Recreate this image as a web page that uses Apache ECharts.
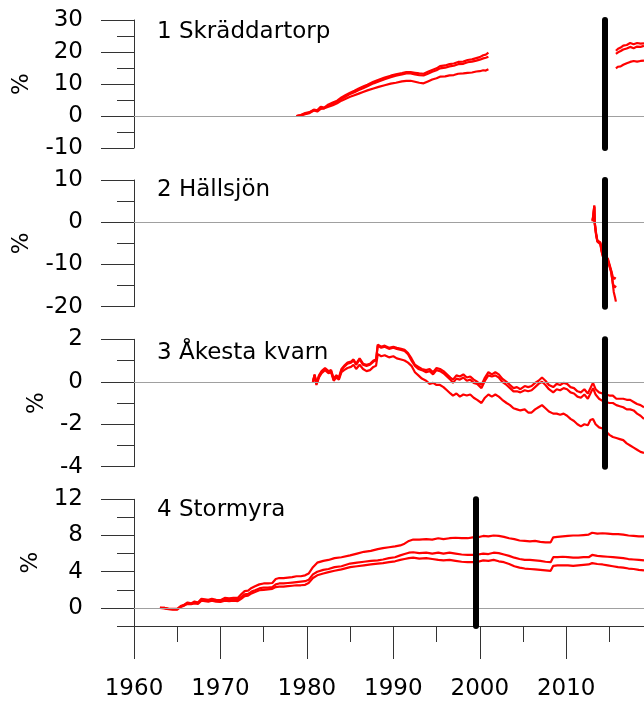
<!DOCTYPE html>
<html><head><meta charset="utf-8">
<script src="https://cdn.jsdelivr.net/npm/echarts@6/dist/echarts.min.js"></script>
<style>html,body{margin:0;padding:0;background:#fff}#c{width:644px;height:704px}</style>
</head><body><div id="c"></div>
<script>
const panelTitles = ['1 Skräddartorp', '2 Hällsjön', '3 Åkesta kvarn', '4 Stormyra'];
const yUnit = '%';
const yMin = [-10, -20, -4, -2];
const yMax = [30, 10, 2, 12];
const yMajorTicks = [[-10, 0, 10, 20, 30], [-20, -10, 0, 10], [-4, -2, 0, 2], [0, 4, 8, 12]];
const yMinorTicks = [[-5, 5, 15, 25], [-15, -5, 5], [-3, -1, 1], [-2, 2, 6, 10]];
const xMin = 1960, xMax = 2019;
const xMajorTicks = [1960, 1970, 1980, 1990, 2000, 2010];
const xMinorTicks = [1965, 1975, 1985, 1995, 2005, 2015];
const breakYears = [2014.5, 2014.5, 2014.5, 1999.5];

// Panel 1 – Skräddartorp (two segments)
const p1TopSeg1 = [[1978.8,0],[1979.3,0.3],[1979.8,0.9],[1980.3,1.2],[1980.8,2.0],[1981.2,1.8],[1981.6,2.9],[1982.0,2.6],[1982.5,3.6],[1983.0,4.2],[1983.5,4.8],[1984.0,5.8],[1984.5,6.6],[1985.0,7.3],[1985.5,7.9],[1986.0,8.6],[1986.5,9.2],[1987.0,9.8],[1987.7,10.7],[1988.3,11.3],[1989.0,12.0],[1989.7,12.6],[1990.3,13.0],[1991.0,13.4],[1991.5,13.7],[1992.0,13.7],[1992.5,13.5],[1993.0,13.3],[1993.5,13.2],[1994.0,13.8],[1994.5,14.4],[1995.0,14.9],[1995.4,15.6],[1996.0,15.8],[1996.5,16.2],[1997.0,16.4],[1997.5,16.9],[1998.1,17.0],[1998.6,17.5],[1999.1,17.7],[1999.6,18.1],[2000.0,18.4],[2000.4,19.0],[2000.7,19.2],[2001.0,19.8]];
const p1MidSeg1 = [[1978.8,0],[1979.3,0.2],[1979.8,0.7],[1980.3,1.1],[1980.8,1.8],[1981.2,1.6],[1981.6,2.6],[1982.0,2.4],[1982.5,3.3],[1983.0,3.9],[1983.5,4.5],[1984.0,5.4],[1984.5,6.1],[1985.0,6.9],[1985.5,7.4],[1986.0,8.1],[1986.5,8.7],[1987.0,9.3],[1987.7,10.2],[1988.3,10.8],[1989.0,11.5],[1989.7,12.1],[1990.3,12.6],[1991.0,13.0],[1991.5,13.3],[1992.0,13.3],[1992.5,13.0],[1993.0,12.8],[1993.5,12.7],[1994.0,13.2],[1994.5,13.8],[1995.0,14.3],[1995.4,14.9],[1996.0,15.1],[1996.5,15.5],[1997.0,15.7],[1997.5,16.2],[1998.1,16.3],[1998.6,16.8],[1999.1,17.0],[1999.6,17.3],[2000.0,17.6],[2000.4,18.0],[2000.7,18.2],[2001.0,18.5]];
const p1BotSeg1 = [[1978.8,0],[1979.3,0.2],[1979.8,0.6],[1980.3,0.9],[1980.8,1.7],[1981.2,1.4],[1981.6,2.2],[1982.0,2.4],[1982.5,2.9],[1983.0,3.4],[1983.5,4.0],[1984.0,4.8],[1984.5,5.4],[1985.0,6.0],[1985.5,6.5],[1986.0,7.0],[1986.5,7.5],[1987.0,8.0],[1987.7,8.6],[1988.3,9.1],[1989.0,9.6],[1989.7,10.1],[1990.3,10.4],[1991.0,10.8],[1991.5,11.0],[1992.0,11.0],[1992.5,10.7],[1993.0,10.4],[1993.5,10.2],[1994.0,10.8],[1994.5,11.4],[1995.0,11.8],[1995.4,12.3],[1996.0,12.4],[1996.5,12.7],[1997.0,12.8],[1997.5,13.2],[1998.1,13.3],[1998.6,13.5],[1999.1,13.6],[1999.6,13.9],[2000.0,14.0],[2000.4,14.3],[2000.7,14.2],[2001.0,14.6]];
const p1TopSeg2 = [[2015.75,20.4],[2016.0,21.0],[2016.3,21.4],[2016.6,22.0],[2017.0,22.2],[2017.4,22.8],[2017.8,22.4],[2018.2,22.8],[2018.6,22.6],[2019.0,22.7]];
const p1MidSeg2 = [[2015.75,19.4],[2016.0,19.9],[2016.3,20.3],[2016.6,20.8],[2017.0,21.1],[2017.4,21.6],[2017.8,21.2],[2018.2,21.7],[2018.6,21.6],[2019.0,21.9]];
const p1BotSeg2 = [[2015.75,14.9],[2016.0,15.4],[2016.3,15.5],[2016.6,16.0],[2017.0,16.5],[2017.4,16.9],[2017.8,17.2],[2018.2,17.0],[2018.6,17.2],[2019.0,17.3]];

// Panel 2 – Hällsjön
const p2Top = [[2013.05,0.5],[2013.15,2.0],[2013.25,4.0],[2013.3,0.0],[2013.45,-2.5],[2013.6,-4.3],[2013.8,-4.5],[2013.95,-4.8],[2014.1,-6.5],[2014.3,-8.2],[2014.5,-8.8],[2014.8,-8.5],[2015.0,-8.7],[2015.2,-11.4],[2015.4,-13.0],[2015.55,-13.5],[2015.7,-13.0]];
const p2Mid = [[2013.05,0.3],[2013.15,1.8],[2013.25,3.8],[2013.3,-0.2],[2013.45,-2.7],[2013.6,-4.4],[2013.8,-4.7],[2013.95,-5.0],[2014.1,-6.8],[2014.3,-8.4],[2014.5,-9.0],[2014.8,-8.8],[2015.0,-9.0],[2015.2,-11.6],[2015.4,-14.5],[2015.6,-15.5],[2015.75,-15.0]];
const p2Bot = [[2013.05,0.2],[2013.15,1.6],[2013.25,3.6],[2013.3,-0.4],[2013.45,-2.9],[2013.6,-4.6],[2013.8,-4.9],[2013.95,-5.2],[2014.1,-7.0],[2014.3,-8.6],[2014.5,-9.2],[2014.8,-9.0],[2015.0,-9.3],[2015.2,-11.8],[2015.35,-13.8],[2015.5,-16.5],[2015.65,-17.8],[2015.75,-18.8]];

// Panel 3 – Åkesta kvarn
const p3Top = [[1980.7,0.0],[1980.9,0.35],[1981.1,-0.1],[1981.4,0.3],[1981.7,0.5],[1982.1,0.65],[1982.5,0.5],[1982.8,0.55],[1983.1,0.15],[1983.4,0.3],[1983.7,0.2],[1984.0,0.6],[1984.3,0.75],[1984.7,0.9],[1985.1,0.95],[1985.4,1.05],[1985.7,0.85],[1986.1,1.1],[1986.5,0.85],[1986.9,0.8],[1987.3,0.85],[1987.7,1.0],[1988.0,1.05],[1988.2,1.75],[1988.6,1.65],[1989.0,1.7],[1989.5,1.6],[1990.0,1.65],[1990.4,1.6],[1990.9,1.55],[1991.3,1.5],[1991.7,1.35],[1992.1,1.1],[1992.5,0.8],[1992.9,0.7],[1993.3,0.6],[1993.8,0.55],[1994.2,0.6],[1994.6,0.45],[1995.0,0.65],[1995.4,0.6],[1995.8,0.5],[1996.2,0.35],[1996.6,0.2],[1996.9,0.1],[1997.3,0.3],[1997.7,0.25],[1998.1,0.35],[1998.5,0.2],[1998.9,0.25],[1999.3,0.1],[1999.7,0.0],[2000.2,-0.15],[2000.6,0.2],[2001.0,0.45],[2001.4,0.35],[2001.8,0.45],[2002.2,0.35],[2002.6,0.15],[2003.1,0.0],[2003.5,-0.15],[2003.9,-0.3],[2004.3,-0.25],[2004.7,-0.35],[2005.2,-0.2],[2005.6,-0.25],[2006.0,-0.2],[2006.4,-0.05],[2006.8,0.05],[2007.2,0.2],[2007.6,0.05],[2008.0,-0.15],[2008.5,-0.25],[2008.9,-0.1],[2009.3,-0.15],[2009.7,-0.05],[2010.1,-0.1],[2010.5,-0.25],[2010.9,-0.3],[2011.3,-0.45],[2011.7,-0.5],[2012.1,-0.35],[2012.5,-0.55],[2012.8,-0.3],[2013.1,-0.05],[2013.4,-0.35],[2013.8,-0.5],[2014.2,-0.55],[2014.6,-0.6],[2015.0,-0.65],[2015.4,-0.65],[2015.8,-0.8],[2016.2,-0.8],[2016.6,-0.8],[2017.0,-0.85],[2017.4,-0.85],[2017.8,-0.95],[2018.2,-1.05],[2018.6,-1.1],[2019.0,-1.2]];
const p3Mid = [[1980.7,0.0],[1980.9,0.3],[1981.1,-0.1],[1981.4,0.25],[1981.7,0.45],[1982.1,0.6],[1982.5,0.45],[1982.8,0.5],[1983.1,0.1],[1983.4,0.3],[1983.7,0.15],[1984.0,0.55],[1984.3,0.7],[1984.7,0.85],[1985.1,0.9],[1985.4,1.0],[1985.7,0.8],[1986.1,1.05],[1986.5,0.8],[1986.9,0.75],[1987.3,0.8],[1987.7,0.95],[1988.0,1.0],[1988.2,1.7],[1988.6,1.6],[1989.0,1.65],[1989.5,1.55],[1990.0,1.6],[1990.4,1.55],[1990.9,1.5],[1991.3,1.45],[1991.7,1.3],[1992.1,1.0],[1992.5,0.75],[1992.9,0.6],[1993.3,0.55],[1993.8,0.45],[1994.2,0.5],[1994.6,0.35],[1995.0,0.55],[1995.4,0.5],[1995.8,0.4],[1996.2,0.25],[1996.6,0.1],[1996.9,-0.05],[1997.3,0.15],[1997.7,0.1],[1998.1,0.2],[1998.5,0.05],[1998.9,0.1],[1999.3,-0.05],[1999.7,-0.1],[2000.2,-0.3],[2000.6,0.05],[2001.0,0.3],[2001.4,0.25],[2001.8,0.3],[2002.2,0.2],[2002.6,0.0],[2003.1,-0.15],[2003.5,-0.3],[2003.9,-0.45],[2004.3,-0.45],[2004.7,-0.5],[2005.2,-0.4],[2005.6,-0.45],[2006.0,-0.4],[2006.4,-0.25],[2006.8,-0.1],[2007.2,0.0],[2007.6,-0.15],[2008.0,-0.35],[2008.5,-0.5],[2008.9,-0.35],[2009.3,-0.4],[2009.7,-0.3],[2010.1,-0.35],[2010.5,-0.5],[2010.9,-0.55],[2011.3,-0.7],[2011.7,-0.75],[2012.1,-0.6],[2012.5,-0.8],[2012.8,-0.55],[2013.1,-0.3],[2013.4,-0.6],[2013.8,-0.8],[2014.2,-0.9],[2014.6,-0.95],[2015.0,-1.0],[2015.4,-1.0],[2015.8,-1.1],[2016.2,-1.15],[2016.6,-1.2],[2017.0,-1.3],[2017.4,-1.3],[2017.8,-1.35],[2018.2,-1.5],[2018.6,-1.6],[2019.0,-1.75]];
const p3Bot = [[1980.7,0.0],[1980.9,0.3],[1981.1,-0.15],[1981.4,0.2],[1981.7,0.4],[1982.1,0.55],[1982.5,0.4],[1982.8,0.45],[1983.1,0.05],[1983.4,0.2],[1983.7,0.1],[1984.0,0.45],[1984.3,0.55],[1984.7,0.65],[1985.1,0.7],[1985.4,0.8],[1985.7,0.6],[1986.1,0.8],[1986.5,0.6],[1986.9,0.5],[1987.3,0.55],[1987.7,0.7],[1988.0,0.75],[1988.2,1.3],[1988.6,1.2],[1989.0,1.25],[1989.5,1.15],[1990.0,1.2],[1990.4,1.1],[1990.9,1.05],[1991.3,1.0],[1991.7,0.9],[1992.1,0.75],[1992.5,0.45],[1992.9,0.3],[1993.3,0.15],[1993.8,0.05],[1994.2,-0.1],[1994.6,-0.05],[1995.0,-0.15],[1995.4,-0.15],[1995.8,-0.25],[1996.2,-0.4],[1996.6,-0.55],[1996.9,-0.65],[1997.3,-0.55],[1997.7,-0.7],[1998.1,-0.6],[1998.5,-0.65],[1998.9,-0.6],[1999.3,-0.75],[1999.7,-0.85],[2000.2,-1.0],[2000.6,-0.75],[2001.0,-0.6],[2001.4,-0.7],[2001.8,-0.6],[2002.2,-0.7],[2002.6,-0.85],[2003.1,-1.0],[2003.5,-1.1],[2003.9,-1.25],[2004.3,-1.3],[2004.7,-1.35],[2005.2,-1.3],[2005.6,-1.45],[2006.0,-1.45],[2006.4,-1.3],[2006.8,-1.2],[2007.2,-1.1],[2007.6,-1.25],[2008.0,-1.4],[2008.5,-1.5],[2008.9,-1.5],[2009.3,-1.55],[2009.7,-1.5],[2010.1,-1.6],[2010.5,-1.75],[2010.9,-1.85],[2011.3,-2.0],[2011.7,-2.1],[2012.1,-2.0],[2012.5,-2.05],[2012.8,-1.8],[2013.1,-1.75],[2013.4,-2.0],[2013.8,-2.15],[2014.2,-2.2],[2014.5,-2.25],[2014.6,-2.35],[2015.0,-2.5],[2015.4,-2.6],[2015.8,-2.65],[2016.2,-2.7],[2016.6,-2.75],[2017.0,-2.9],[2017.4,-3.0],[2017.8,-3.1],[2018.2,-3.2],[2018.6,-3.3],[2019.0,-3.35]];

// Panel 4 – Stormyra
const p4Top = [[1963.0,0.0],[1963.5,0.0],[1964.0,-0.1],[1964.5,-0.1],[1965.0,-0.1],[1965.4,0.2],[1965.8,0.35],[1966.2,0.6],[1966.6,0.5],[1967.0,0.7],[1967.4,0.6],[1967.8,1.0],[1968.2,0.95],[1968.6,0.9],[1969.0,1.0],[1969.5,0.9],[1970.0,0.85],[1970.5,1.1],[1971.0,1.05],[1971.5,1.1],[1972.0,1.1],[1972.4,1.5],[1972.8,1.85],[1973.2,1.9],[1973.6,2.2],[1974.0,2.4],[1974.5,2.6],[1975.0,2.7],[1975.5,2.7],[1976.0,2.75],[1976.4,3.2],[1976.8,3.3],[1977.3,3.3],[1977.8,3.35],[1978.3,3.4],[1978.8,3.5],[1979.3,3.5],[1979.8,3.6],[1980.2,3.8],[1980.7,4.5],[1981.2,5.0],[1981.9,5.2],[1982.5,5.3],[1983.2,5.5],[1984.0,5.6],[1985.0,5.8],[1985.8,6.0],[1986.6,6.2],[1987.4,6.3],[1988.2,6.5],[1988.8,6.6],[1989.5,6.7],[1990.2,6.8],[1990.8,6.9],[1991.3,7.1],[1991.8,7.4],[1992.3,7.55],[1993.0,7.55],[1993.8,7.6],[1994.5,7.55],[1995.2,7.7],[1995.8,7.6],[1996.5,7.7],[1997.2,7.75],[1997.9,7.7],[1998.6,7.7],[1999.2,7.8],[1999.8,7.8],[2000.4,7.95],[2001.0,7.9],[2001.6,8.0],[2002.2,7.95],[2002.8,7.85],[2003.4,7.7],[2004.0,7.6],[2004.6,7.45],[2005.2,7.4],[2005.8,7.35],[2006.4,7.4],[2007.0,7.3],[2007.6,7.25],[2008.2,7.25],[2008.5,7.8],[2009.0,7.85],[2009.6,7.9],[2010.2,7.95],[2010.8,8.0],[2011.4,8.0],[2012.0,8.05],[2012.6,8.1],[2013.0,8.3],[2013.6,8.2],[2014.2,8.25],[2014.8,8.2],[2015.4,8.15],[2016.0,8.15],[2016.6,8.1],[2017.2,8.0],[2017.8,7.95],[2018.4,7.9],[2019.0,7.9]];
const p4Mid = [[1963.0,0.0],[1963.5,0.0],[1964.0,-0.1],[1964.5,-0.15],[1965.0,-0.15],[1965.4,0.15],[1965.8,0.3],[1966.2,0.5],[1966.6,0.45],[1967.0,0.6],[1967.4,0.55],[1967.8,0.9],[1968.2,0.85],[1968.6,0.8],[1969.0,0.9],[1969.5,0.8],[1970.0,0.75],[1970.5,0.95],[1971.0,0.9],[1971.5,0.95],[1972.0,0.9],[1972.4,1.2],[1972.8,1.5],[1973.2,1.55],[1973.6,1.8],[1974.0,1.95],[1974.5,2.15],[1975.0,2.25],[1975.5,2.25],[1976.0,2.3],[1976.4,2.6],[1976.8,2.7],[1977.3,2.7],[1977.8,2.75],[1978.3,2.8],[1978.8,2.85],[1979.3,2.9],[1979.8,2.95],[1980.2,3.1],[1980.7,3.7],[1981.2,4.0],[1981.9,4.2],[1982.5,4.3],[1983.2,4.5],[1984.0,4.6],[1985.0,4.9],[1985.8,5.0],[1986.6,5.1],[1987.4,5.2],[1988.2,5.25],[1988.8,5.35],[1989.5,5.5],[1990.2,5.6],[1990.8,5.8],[1991.3,5.95],[1991.8,6.1],[1992.3,6.15],[1993.0,6.05],[1993.8,6.1],[1994.5,6.0],[1995.2,6.1],[1995.8,6.0],[1996.5,6.1],[1997.2,6.0],[1997.9,5.9],[1998.6,5.85],[1999.2,5.85],[1999.8,5.9],[2000.4,6.0],[2001.0,5.95],[2001.6,6.1],[2002.2,6.05],[2002.8,5.9],[2003.4,5.75],[2004.0,5.55],[2004.6,5.4],[2005.2,5.3],[2005.8,5.3],[2006.4,5.25],[2007.0,5.2],[2007.6,5.1],[2008.2,5.05],[2008.5,5.6],[2009.0,5.6],[2009.6,5.65],[2010.2,5.6],[2010.8,5.55],[2011.4,5.55],[2012.0,5.6],[2012.6,5.6],[2013.0,5.85],[2013.6,5.75],[2014.2,5.7],[2014.8,5.65],[2015.4,5.6],[2016.0,5.55],[2016.6,5.5],[2017.2,5.4],[2017.8,5.35],[2018.4,5.3],[2019.0,5.25]];
const p4Bot = [[1963.0,0.0],[1963.5,-0.05],[1964.0,-0.15],[1964.5,-0.2],[1965.0,-0.2],[1965.4,0.1],[1965.8,0.25],[1966.2,0.45],[1966.6,0.4],[1967.0,0.5],[1967.4,0.45],[1967.8,0.8],[1968.2,0.75],[1968.6,0.7],[1969.0,0.8],[1969.5,0.7],[1970.0,0.65],[1970.5,0.8],[1971.0,0.75],[1971.5,0.8],[1972.0,0.75],[1972.4,1.0],[1972.8,1.3],[1973.2,1.35],[1973.6,1.6],[1974.0,1.75],[1974.5,1.95],[1975.0,2.0],[1975.5,2.05],[1976.0,2.1],[1976.4,2.3],[1976.8,2.35],[1977.3,2.35],[1977.8,2.4],[1978.3,2.45],[1978.8,2.5],[1979.3,2.5],[1979.8,2.55],[1980.2,2.75],[1980.7,3.3],[1981.2,3.6],[1981.9,3.8],[1982.5,3.95],[1983.2,4.1],[1984.0,4.25],[1985.0,4.5],[1985.8,4.6],[1986.6,4.7],[1987.4,4.8],[1988.2,4.9],[1988.8,4.95],[1989.5,5.05],[1990.2,5.15],[1990.8,5.3],[1991.3,5.4],[1991.8,5.5],[1992.3,5.55],[1993.0,5.45],[1993.8,5.5],[1994.5,5.4],[1995.2,5.3],[1995.8,5.25],[1996.5,5.3],[1997.2,5.2],[1997.9,5.1],[1998.6,5.05],[1999.2,5.05],[1999.8,5.1],[2000.4,5.25],[2001.0,5.2],[2001.6,5.3],[2002.2,5.15],[2002.8,5.05],[2003.4,4.85],[2004.0,4.6],[2004.6,4.45],[2005.2,4.35],[2005.8,4.3],[2006.4,4.25],[2007.0,4.2],[2007.6,4.15],[2008.2,4.1],[2008.5,4.65],[2009.0,4.7],[2009.6,4.7],[2010.2,4.7],[2010.8,4.65],[2011.4,4.7],[2012.0,4.75],[2012.6,4.8],[2013.0,4.95],[2013.6,4.85],[2014.2,4.8],[2014.8,4.7],[2015.4,4.6],[2016.0,4.5],[2016.6,4.45],[2017.2,4.35],[2017.8,4.3],[2018.4,4.2],[2019.0,4.15]];

const panelSeries = [
  [p1TopSeg1, p1MidSeg1, p1BotSeg1, p1TopSeg2, p1MidSeg2, p1BotSeg2],
  [p2Top, p2Mid, p2Bot],
  [p3Top, p3Mid, p3Bot],
  [p4Top, p4Mid, p4Bot]
];

// layout
const gridTop = [20, 180, 339.3, 499.3];
const gridHeight = [128, 126.7, 127.4, 126.7];
const unitPos = [[22.5, 84], [22.5, 243.3], [37.5, 403], [31, 562.5]];
const titleY = [32.5, 190.5, 353.5, 510];
const FONT = 'DejaVu Sans';
const FS = 23;
const AX = '#333';

const grids = [], xAxes = [], yAxes = [], series = [], graphics = [];
for (let i = 0; i < 4; i++) {
  grids.push({ left: 134, width: 510, top: gridTop[i], height: gridHeight[i], containLabel: false });
  const isBottom = i === 3;
  xAxes.push({
    type: 'value', gridIndex: i, min: xMin, max: xMax, position: 'bottom', show: isBottom,
    axisLine: { show: isBottom, onZero: false, lineStyle: { color: AX, width: 1 } },
    axisTick: { show: isBottom, customValues: xMajorTicks, length: 33, lineStyle: { color: AX, width: 1 } },
    axisLabel: { show: isBottom, customValues: xMajorTicks, margin: 52, fontFamily: FONT, fontSize: FS, color: '#000',
      formatter: v => String(v) },
    splitLine: { show: false }
  });
  yAxes.push({
    type: 'value', gridIndex: i, min: yMin[i], max: yMax[i], position: 'left',
    axisLine: { show: true, onZero: false, lineStyle: { color: AX, width: 1 } },
    axisTick: { show: true, customValues: yMajorTicks[i], length: 33, lineStyle: { color: AX, width: 1 } },
    axisLabel: { show: true, customValues: yMajorTicks[i], margin: 51, fontFamily: FONT, fontSize: FS, color: '#000' },
    splitLine: { show: false }
  });
}
// minor tick axes
xAxes.push({
  type: 'value', gridIndex: 3, min: xMin, max: xMax, position: 'bottom', offset: 0,
  axisLine: { show: false, onZero: false },
  axisTick: { show: true, customValues: xMinorTicks, length: 16, lineStyle: { color: AX, width: 1 } },
  axisLabel: { show: false },
  splitLine: { show: false }
});
for (let i = 0; i < 4; i++) {
  yAxes.push({
    type: 'value', gridIndex: i, min: yMin[i], max: yMax[i], position: 'left', offset: 0,
    axisLine: { show: false, onZero: false },
    axisTick: { show: true, customValues: yMinorTicks[i], length: 17, lineStyle: { color: AX, width: 1 } },
    axisLabel: { show: false },
    splitLine: { show: false }
  });
}

for (let i = 0; i < 4; i++) {
  // reference lines: zero line + black vertical line
  series.push({
    type: 'line', xAxisIndex: i, yAxisIndex: i, data: [], z: 1, silent: true,
    markLine: {
      silent: true, symbol: ['none', 'none'], animation: false,
      label: { show: false },
      data: [
        { yAxis: 0, lineStyle: { color: '#a0a0a0', width: 1.2, type: 'solid' } },
        { xAxis: breakYears[i], lineStyle: { color: '#000', width: 6, type: 'solid', cap: 'round' } }
      ]
    }
  });
  panelSeries[i].forEach(d => {
    series.push({
      type: 'line', xAxisIndex: i, yAxisIndex: i, data: d, z: 3,
      showSymbol: false, symbol: 'none', silent: true,
      lineStyle: { color: '#ff0000', width: 2.2 }
    });
  });
  graphics.push({
    type: 'text', x: unitPos[i][0], y: unitPos[i][1], rotation: Math.PI / 2,
    style: { text: yUnit, fontFamily: FONT, fontSize: FS, fill: '#000', align: 'center', verticalAlign: 'middle' }
  });
  graphics.push({
    type: 'text', x: 157, y: titleY[i],
    style: { text: panelTitles[i], fontFamily: FONT, fontSize: FS, fill: '#000', align: 'left', verticalAlign: 'middle' }
  });
}

const chart = echarts.init(document.getElementById('c'), null, { renderer: 'canvas' });
chart.setOption({
  animation: false,
  backgroundColor: '#fff',
  grid: grids, xAxis: xAxes, yAxis: yAxes, series: series, graphic: graphics
});
</script></body></html>
